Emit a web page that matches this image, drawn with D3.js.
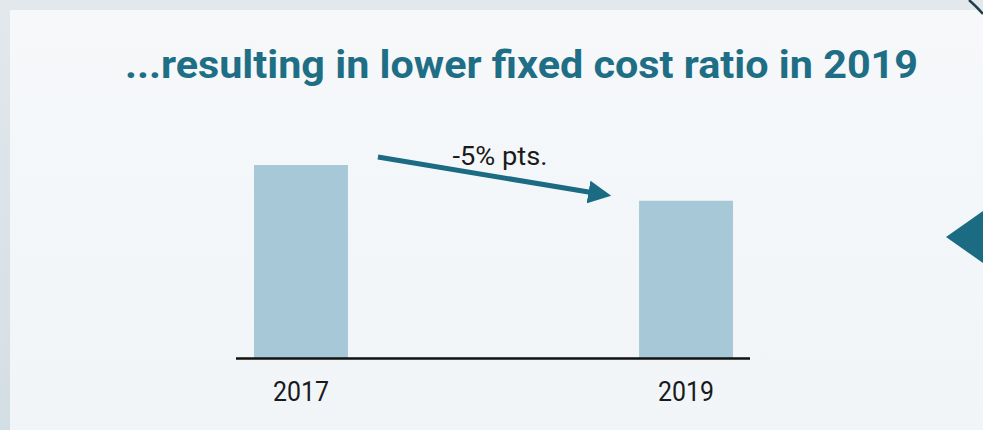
<!DOCTYPE html>
<html>
<head>
<meta charset="utf-8">
<script src="https://cdn.jsdelivr.net/npm/d3@7"></script>
<style>
  html, body { margin: 0; padding: 0; background: #dfe5ea; }
  svg { display: block; }
</style>
</head>
<body>
<svg id="chart" width="983" height="430"></svg>
<script>
var title = '...resulting in lower fixed cost ratio in 2019';
var years = ['2017', '2019'];
var ratio = [27, 22];
var deltaLabel = '-5% pts.';

var svg = d3.select('#chart');
var defs = svg.append('defs');

var bg = defs.append('linearGradient').attr('id', 'bg').attr('x1', 0).attr('y1', 0).attr('x2', 0).attr('y2', 1);
bg.append('stop').attr('offset', 0).attr('stop-color', '#e3e8ec');
bg.append('stop').attr('offset', 1).attr('stop-color', '#d3dee4');
svg.append('rect').attr('width', 983).attr('height', 430).attr('fill', 'url(#bg)');

var pg = defs.append('linearGradient').attr('id', 'panel').attr('x1', 0).attr('y1', 0).attr('x2', 0).attr('y2', 1);
pg.append('stop').attr('offset', 0).attr('stop-color', '#f6f8fa');
pg.append('stop').attr('offset', 1).attr('stop-color', '#f1f5f8');
svg.append('rect').attr('x', 10).attr('y', 10).attr('width', 980).attr('height', 430).attr('fill', 'url(#panel)');

// corner line top right
svg.append('path')
    .attr('d', 'M969,0 Q976,6 983,14')
    .attr('fill', 'none').attr('stroke', '#1f3f4c').attr('stroke-width', 2.5);

svg.append('text')
    .attr('x', 125).attr('y', 78)
    .attr('textLength', 793).attr('lengthAdjust', 'spacingAndGlyphs')
    .attr('font-family', 'Roboto, "Liberation Sans", sans-serif')
    .attr('font-weight', 'bold').attr('font-size', 38)
    .attr('fill', '#1e6e85')
    .text(title);

var x = d3.scaleBand().domain(years).range([254, 733]).paddingInner(0.756).paddingOuter(0);
var y = d3.scaleLinear().domain([0, 27]).range([358, 165]);

svg.selectAll('rect.bar').data(years).enter().append('rect')
    .attr('class', 'bar')
    .attr('x', function (d) { return x(d); })
    .attr('y', function (d, i) { return y(ratio[i]); })
    .attr('width', x.bandwidth())
    .attr('height', function (d, i) { return y(0) - y(ratio[i]); })
    .attr('fill', '#a7c9d7');

var axis = svg.append('g').attr('transform', 'translate(0,' + y(0) + ')')
    .call(d3.axisBottom(x).tickSize(0).tickPadding(24));
axis.select('.domain').attr('stroke', '#111').attr('stroke-width', 2.5).attr('d', 'M236,0.5H750');
axis.selectAll('text')
    .attr('font-family', 'Roboto, "Liberation Sans", sans-serif')
    .attr('font-size', 27).attr('fill', '#1a1a1a')
    .attr('textLength', 56).attr('lengthAdjust', 'spacingAndGlyphs');

// change arrow
defs.append('marker').attr('id', 'head')
    .attr('viewBox', '0 0 10 10').attr('refX', 2).attr('refY', 5)
    .attr('markerWidth', 4.6).attr('markerHeight', 4.6).attr('orient', 'auto')
    .attr('markerUnits', 'strokeWidth')
    .append('path').attr('d', 'M0,0L10,5L0,10Z').attr('fill', '#1b6c83');

var x0 = x(years[0]) + x.bandwidth() + 30, x1 = x(years[1]) - 46;
svg.append('line')
    .attr('x1', x0).attr('y1', y(ratio[0]) - 8)
    .attr('x2', x1).attr('y2', y(ratio[1]) - 8)
    .attr('stroke', '#1b6c83').attr('stroke-width', 5)
    .attr('marker-end', 'url(#head)');

svg.append('text')
    .attr('x', 500).attr('y', 165)
    .attr('text-anchor', 'middle')
    .attr('font-family', 'Roboto, "Liberation Sans", sans-serif')
    .attr('font-size', 26).attr('fill', '#1a1a1a')
    .attr('textLength', 95).attr('lengthAdjust', 'spacingAndGlyphs')
    .text(deltaLabel);

// side pointer
svg.append('path').attr('d', 'M946,237L983,211L983,263Z').attr('fill', '#1b6c83');
</script>
</body>
</html>
